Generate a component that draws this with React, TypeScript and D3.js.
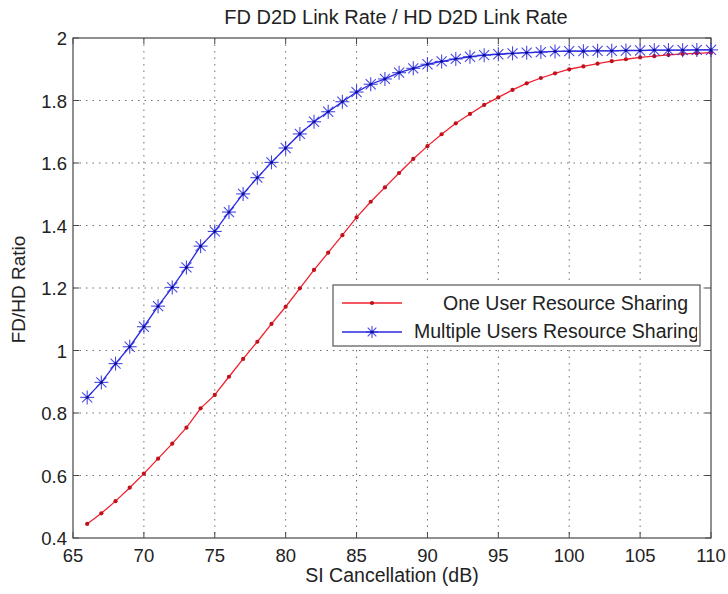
import React from "react";
import * as d3 from "d3";

const xValues = [66,67,68,69,70,71,72,73,74,75,76,77,78,79,80,81,82,83,84,85,86,87,88,89,90,91,92,93,94,95,96,97,98,99,100,101,102,103,104,105,106,107,108,109,110];
const oneUser = [0.445,0.479,0.518,0.561,0.606,0.654,0.702,0.753,0.815,0.858,0.916,0.973,1.028,1.085,1.140,1.199,1.258,1.313,1.369,1.426,1.476,1.522,1.568,1.613,1.654,1.692,1.727,1.757,1.786,1.810,1.834,1.855,1.872,1.887,1.900,1.909,1.918,1.926,1.932,1.938,1.942,1.946,1.949,1.951,1.953];
const multiUser = [0.850,0.898,0.958,1.012,1.076,1.142,1.202,1.266,1.334,1.381,1.443,1.501,1.553,1.602,1.648,1.693,1.732,1.764,1.796,1.827,1.852,1.869,1.889,1.903,1.916,1.925,1.933,1.940,1.945,1.948,1.951,1.953,1.955,1.957,1.958,1.958,1.959,1.959,1.960,1.960,1.961,1.961,1.961,1.962,1.962];
const xTicks = [65,70,75,80,85,90,95,100,105,110];
const yTicks = [0.4,0.6,0.8,1,1.2,1.4,1.6,1.8,2];
const title = "FD D2D Link Rate / HD D2D Link Rate";
const xLabel = "SI Cancellation (dB)";
const yLabel = "FD/HD Ratio";
const seriesNames = ["One User Resource Sharing", "Multiple Users Resource Sharing"];

const W = 728, H = 594;
const L = 73, R = 711, T = 38, B = 538;
const font = "Liberation Sans, Arial, sans-serif";
const RED = "#f0202e";
const BLUE = "#2828e0";

function Star({ cx, cy, r, color }: { cx: number; cy: number; r: number; color: string }) {
  const d = r * 0.72;
  return (
    <g stroke={color} strokeWidth={1.1} opacity={0.85}>
      <line x1={cx - r} y1={cy} x2={cx + r} y2={cy} />
      <line x1={cx} y1={cy - r} x2={cx} y2={cy + r} />
      <line x1={cx - d} y1={cy - d} x2={cx + d} y2={cy + d} />
      <line x1={cx - d} y1={cy + d} x2={cx + d} y2={cy - d} />
      <circle cx={cx} cy={cy} r={1.6} fill="#00008b" stroke="none" />
    </g>
  );
}

export default function App() {
  const x = d3.scaleLinear().domain([65, 110]).range([L, R]);
  const y = d3.scaleLinear().domain([0.4, 2]).range([B, T]);
  const line = d3.line<number>().x((_, i) => x(xValues[i])).y((v) => y(v));

  const lgX0 = 333, lgX1 = 700, lgY0 = 285, lgY1 = 346;

  return (
    <svg width={W} height={H} style={{ position: "absolute", left: 0, top: 0 }} fontFamily={font}>
      <rect x={0} y={0} width={W} height={H} fill="#fff" />
      <defs>
        <clipPath id="lgclip">
          <rect x={lgX0} y={lgY0} width={lgX1 - lgX0 - 3} height={lgY1 - lgY0} />
        </clipPath>
      </defs>
      {/* grid */}
      <g stroke="#333" strokeWidth={1} strokeDasharray="1.5,5" opacity={0.7}>
        {xTicks.slice(1, -1).map((t) => (
          <line key={"gx" + t} x1={x(t)} x2={x(t)} y1={T} y2={B} />
        ))}
        {yTicks.slice(1, -1).map((t) => (
          <line key={"gy" + t} x1={L} x2={R} y1={y(t)} y2={y(t)} />
        ))}
      </g>
      {/* ticks */}
      <g stroke="#444" strokeWidth={1}>
        {xTicks.map((t) => (
          <g key={"tx" + t}>
            <line x1={x(t)} x2={x(t)} y1={B} y2={B - 6} />
            <line x1={x(t)} x2={x(t)} y1={T} y2={T + 6} />
          </g>
        ))}
        {yTicks.map((t) => (
          <g key={"ty" + t}>
            <line x1={L} x2={L + 6} y1={y(t)} y2={y(t)} />
            <line x1={R} x2={R - 6} y1={y(t)} y2={y(t)} />
          </g>
        ))}
      </g>
      <rect x={L} y={T} width={R - L} height={B - T} fill="none" stroke="#555" strokeWidth={1.3} />
      {/* series */}
      <path d={line(oneUser) || ""} fill="none" stroke={RED} strokeWidth={1.3} />
      {oneUser.map((v, i) => (
        <circle key={"r" + i} cx={x(xValues[i])} cy={y(v)} r={2.1} fill="#c0101a" />
      ))}
      <path d={line(multiUser) || ""} fill="none" stroke={BLUE} strokeWidth={1.3} />
      {multiUser.map((v, i) => (
        <Star key={"b" + i} cx={x(xValues[i])} cy={y(v)} r={7} color={BLUE} />
      ))}
      {/* tick labels */}
      <g fontSize={18.5} fill="#222">
        {xTicks.map((t) => (
          <text key={"lx" + t} x={x(t)} y={B + 24} textAnchor="middle">{t}</text>
        ))}
        {yTicks.map((t) => (
          <text key={"ly" + t} x={L - 6} y={y(t) + 7} textAnchor="end">{t}</text>
        ))}
      </g>
      <text x={396} y={24} fontSize={20} textAnchor="middle" fill="#222">{title}</text>
      <text x={392} y={582} fontSize={19.5} textAnchor="middle" fill="#222">{xLabel}</text>
      <text transform={`translate(25,${289.5}) rotate(-90)`} fontSize={19} textAnchor="middle" fill="#222">{yLabel}</text>
      {/* legend */}
      <rect x={lgX0} y={lgY0} width={lgX1 - lgX0} height={lgY1 - lgY0} fill="#fff" stroke="#555" strokeWidth={1.2} />
      <line x1={342} x2={402} y1={303} y2={303} stroke={RED} strokeWidth={1.3} />
      <circle cx={372} cy={303} r={2.1} fill="#c0101a" />
      <line x1={342} x2={402} y1={332} y2={332} stroke={BLUE} strokeWidth={1.3} />
      <Star cx={372} cy={332} r={6} color={BLUE} />
      <g clipPath="url(#lgclip)" fontSize={19.5} fill="#222">
        <text x={688} y={310} textAnchor="end">{seriesNames[0]}</text>
        <text x={414} y={338}>{seriesNames[1]}</text>
      </g>
    </svg>
  );
}
